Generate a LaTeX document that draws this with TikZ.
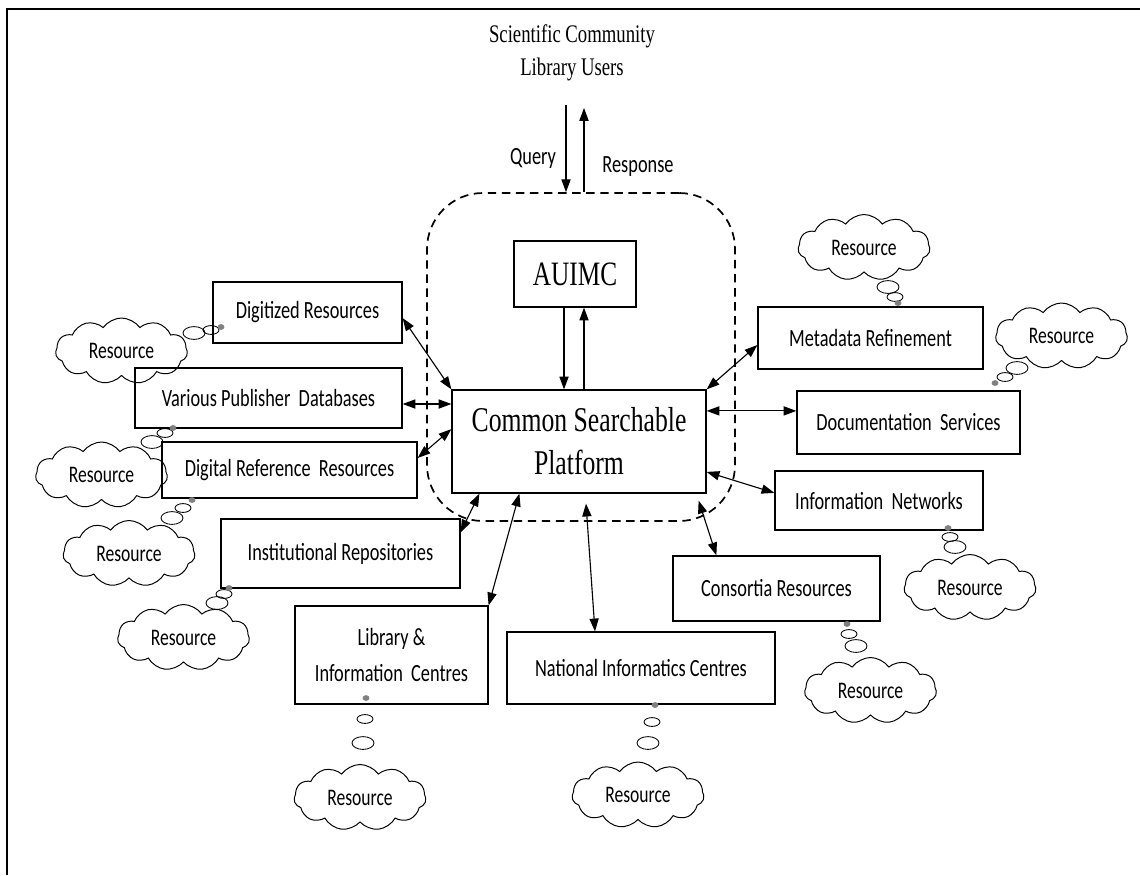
\documentclass[tikz,border=0pt]{standalone}
\usepackage{fontspec}
\setmainfont[FakeStretch=0.74]{Liberation Serif}
\newfontfamily\calibri[FakeStretch=0.74]{Carlito}
\usetikzlibrary{arrows.meta,shapes.symbols}
\tikzset{
  resbox/.style={draw, fill=white, line width=0.9pt, align=center, font=\calibri\fontsize{17.6}{25}\selectfont},
  thought/.style={draw, cloud, cloud puffs=11, cloud puff arc=110, cloud ignores aspect, minimum width=3.3cm, minimum height=1.65cm, inner sep=0pt, line width=0.7pt, font=\calibri\fontsize{16.9}{18}\selectfont},
  link/.style={<->, line width=0.8pt},
  >={Triangle[length=3.2mm,width=2.3mm]}
}
\begin{document}
\begin{tikzpicture}
  \useasboundingbox (0,0) rectangle (28.5,-21.875);
%Khung
  \draw[line width=1.5pt] (0.175,-21.875) -- (0.175,-0.225) -- (28.5,-0.225);
%Nguoi dung
  \node[align=center, font=\fontsize{18}{23.5}\selectfont] (users) at (14.3,-1.325) {Scientific Community\\Library Users};
  \node[draw, dashed, line width=1.2pt, dash pattern=on 6pt off 4pt, rounded corners=1.4cm, minimum width=7.7cm, minimum height=8.2cm] (core) at (14.525,-8.925) {};
  \coordinate (qry) at (14.15,-2.625);
  \coordinate (rsp) at (14.6,-2.7);
  \draw[->, line width=0.8pt] (qry) -- (qry |- core.north);
  \draw[->, line width=0.8pt] (rsp |- core.north) -- (rsp);
  \node[font=\calibri\fontsize{17.6}{20}\selectfont] (qlab) at (13.325,-3.95) {Query};
  \node[font=\calibri\fontsize{17.6}{20}\selectfont] (rlab) at (15.95,-4.175) {Response};
%Trung tam
  \node[resbox, font=\fontsize{24.3}{26}\selectfont, minimum width=3.05cm, minimum height=1.65cm] (auimc) at (14.375,-6.85) {AUIMC};
  \node[resbox, font=\fontsize{24.7}{30.6}\selectfont, minimum width=6.35cm, minimum height=2.575cm] (csp) at (14.475,-11.0375) {Common Searchable\\Platform};
  \draw[->, line width=0.8pt] ([xshift=-0.275cm]auimc.south) -- ([xshift=-0.275cm]auimc.south |- csp.north);
  \draw[->, line width=0.8pt] ([xshift=0.225cm]auimc.south |- csp.north) -- ([xshift=0.225cm]auimc.south);
%Nguon
  \node[resbox, minimum width=4.725cm, minimum height=1.525cm] (dig) at (7.6875,-7.8125) {Digitized Resources};
  \node[resbox, minimum width=6.675cm, minimum height=1.5cm] (vpd) at (6.7125,-9.95) {Various Publisher~ Databases};
  \node[resbox, minimum width=6.375cm, minimum height=1.4cm] (drr) at (7.2375,-11.75) {Digital Reference~ Resources};
  \node[resbox, minimum width=5.975cm, minimum height=1.725cm] (ir) at (8.5125,-13.8375) {Institutional Repositories};
  \node[resbox, minimum width=4.825cm, minimum height=2.45cm] (lic) at (9.7875,-16.375) {Library \&\\Information~ Centres};
  \node[resbox, minimum width=6.7cm, minimum height=1.8cm] (nic) at (16.025,-16.7) {National Informatics Centres};
  \node[resbox, minimum width=5.175cm, minimum height=1.625cm] (cr) at (19.4125,-14.7125) {Consortia Resources};
  \node[resbox, minimum width=5.2cm, minimum height=1.475cm] (inet) at (21.975,-12.5125) {Information~ Networks};
  \node[resbox, minimum width=5.575cm, minimum height=1.575cm] (ds) at (22.7125,-10.5625) {Documentation~ Services};
  \node[resbox, minimum width=5.625cm, minimum height=1.55cm] (mr) at (21.7625,-8.45) {Metadata Refinement};
%Mui ten
  \draw[link] ([yshift=-0.14cm]dig.east) -- (csp.north west);
  \draw[link] ([yshift=-0.15cm]vpd.east) -- ([yshift=-0.15cm]vpd.east -| csp.west);
  \draw[link] ([yshift=0.3cm]drr.east) -- ([yshift=0.31cm]csp.west);
  \draw[link] ([yshift=-0.35cm]ir.north east) -- ([xshift=0.7cm]csp.south west);
  \draw[link] (lic.north east) -- ([xshift=1.7cm]csp.south west);
  \draw[link] ([xshift=-1.15cm]nic.north) -- ([xshift=0.175cm,yshift=-0.25cm]csp.south);
  \draw[link] ([xshift=1.1cm]cr.north west) -- ([xshift=-0.2cm,yshift=-0.175cm]csp.south east);
  \draw[link] ([yshift=0.19cm]inet.west) -- ([yshift=-0.76cm]csp.east);
  \draw[link] ([yshift=0.29cm]ds.west) -- ([yshift=0.29cm]ds.west -| csp.east);
  \draw[link] (csp.north east) -- ([yshift=-0.175cm]mr.west);
%May
  \node[thought] (c1) at (3.0375,-8.775) {Resource};
  \node[thought] (c2) at (2.5375,-11.875) {Resource};
  \node[thought] (c3) at (3.225,-13.8375) {Resource};
  \node[thought] (c4) at (4.5875,-15.9375) {Resource};
  \node[thought] (c5) at (9.0,-19.9375) {Resource};
  \node[thought] (c6) at (15.95,-19.875) {Resource};
  \node[thought] (c7) at (21.7625,-17.2625) {Resource};
  \node[thought] (c8) at (24.25,-14.6875) {Resource};
  \node[thought] (c9) at (26.5375,-8.4) {Resource};
  \node[thought] (c10) at (21.6,-6.1875) {Resource};
%Bong bong
  \draw[line width=0.6pt] (4.85,-8.325) ellipse (0.275 and 0.16);
  \draw[line width=0.6pt] (5.275,-8.25) ellipse (0.2 and 0.11);
  \filldraw[gray, line width=0.6pt] (5.525,-8.175) ellipse (0.075 and 0.06);
  \draw[line width=0.6pt] (3.8,-11.05) ellipse (0.275 and 0.16);
  \draw[line width=0.6pt] (4.125,-10.825) ellipse (0.2 and 0.11);
  \filldraw[gray, line width=0.6pt] (4.325,-10.7) ellipse (0.075 and 0.06);
  \draw[line width=0.6pt] (4.3,-12.95) ellipse (0.275 and 0.16);
  \draw[line width=0.6pt] (4.575,-12.7) ellipse (0.2 and 0.11);
  \filldraw[gray, line width=0.6pt] (4.8,-12.5) ellipse (0.075 and 0.06);
  \draw[line width=0.6pt] (5.425,-15.075) ellipse (0.275 and 0.16);
  \draw[line width=0.6pt] (5.6,-14.85) ellipse (0.2 and 0.11);
  \filldraw[gray, line width=0.6pt] (5.725,-14.7) ellipse (0.075 and 0.06);
  \draw[line width=0.6pt] (9.075,-18.575) ellipse (0.275 and 0.16);
  \draw[line width=0.6pt] (9.125,-17.975) ellipse (0.2 and 0.11);
  \filldraw[gray, line width=0.6pt] (9.15,-17.45) ellipse (0.075 and 0.06);
  \draw[line width=0.6pt] (16.2,-18.575) ellipse (0.275 and 0.16);
  \draw[line width=0.6pt] (16.3,-18.05) ellipse (0.2 and 0.11);
  \filldraw[gray, line width=0.6pt] (16.375,-17.625) ellipse (0.075 and 0.06);
  \draw[line width=0.6pt] (21.4,-16.15) ellipse (0.275 and 0.16);
  \draw[line width=0.6pt] (21.225,-15.85) ellipse (0.2 and 0.11);
  \filldraw[gray, line width=0.6pt] (21.175,-15.6) ellipse (0.075 and 0.06);
  \draw[line width=0.6pt] (23.875,-13.675) ellipse (0.275 and 0.16);
  \draw[line width=0.6pt] (23.75,-13.425) ellipse (0.2 and 0.11);
  \filldraw[gray, line width=0.6pt] (23.7,-13.2) ellipse (0.075 and 0.06);
  \draw[line width=0.6pt] (25.425,-9.2) ellipse (0.275 and 0.16);
  \draw[line width=0.6pt] (25.125,-9.425) ellipse (0.2 and 0.11);
  \filldraw[gray, line width=0.6pt] (24.875,-9.575) ellipse (0.075 and 0.06);
  \draw[line width=0.6pt] (22.2,-7.175) ellipse (0.275 and 0.16);
  \draw[line width=0.6pt] (22.375,-7.425) ellipse (0.2 and 0.11);
  \filldraw[gray, line width=0.6pt] (22.45,-7.575) ellipse (0.075 and 0.06);
\end{tikzpicture}
\end{document}
